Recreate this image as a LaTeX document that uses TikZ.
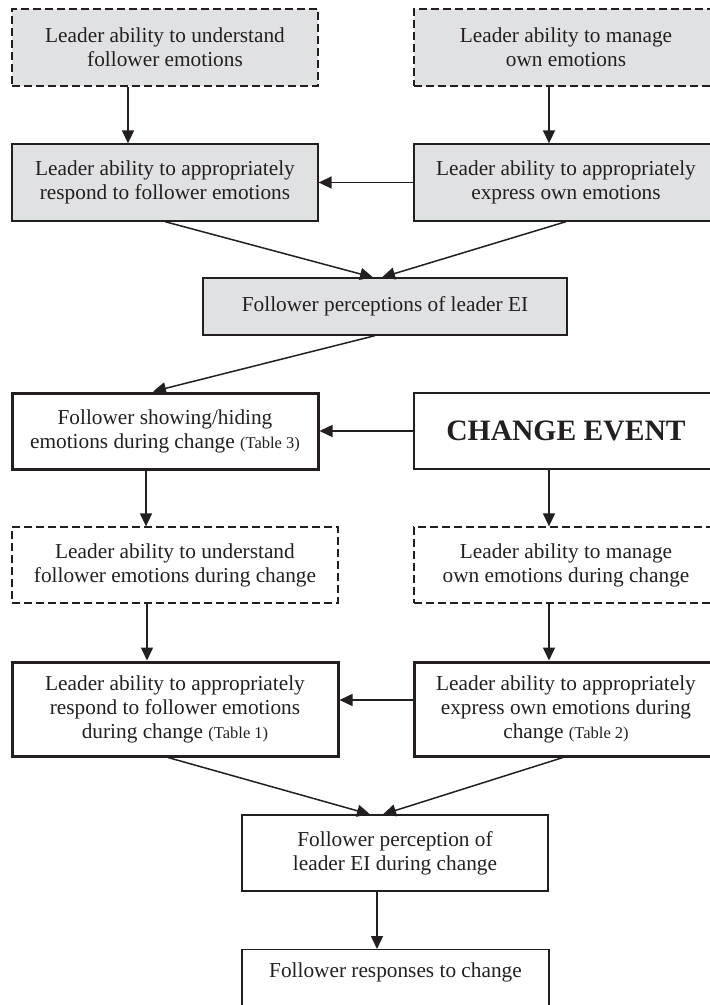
\documentclass[tikz,border=0pt]{standalone}
\usepackage{fontspec}
\setmainfont{Liberation Serif}
\usetikzlibrary{arrows.meta}
\definecolor{boxgray}{RGB}{224,225,227}
\definecolor{ink}{RGB}{35,31,32}
\tikzset{
  base/.style={draw=ink, text=ink, align=center, inner sep=0pt,
    font=\fontsize{21.3}{24}\selectfont, line width=1.3pt},
  grayfill/.style={fill=boxgray},
  dashbox/.style={dash pattern=on 8pt off 4pt},
  thickbox/.style={line width=3pt},
  arr/.style={draw=ink, line width=1.5pt, -{Triangle[length=13pt,width=12pt]}}
}
\newcommand{\tbl}[1]{{\fontsize{16.5}{24}\selectfont #1}}
\begin{document}
\begin{tikzpicture}[x=1pt,y=-1pt]
\useasboundingbox (0,0) rectangle (710,1005);
\clip (0,0) rectangle (710,1005);
% row 1
\node[base,grayfill,dashbox,minimum width=306pt,minimum height=77pt] (A) at (165,47.5)
  {Leader ability to understand\\follower emotions};
\node[base,grayfill,dashbox,minimum width=304pt,minimum height=77pt] (B) at (566,47.5)
  {Leader ability to manage\\own emotions};
% row 2
\node[base,grayfill,minimum width=306pt,minimum height=77pt] (C) at (165,182.5)
  {Leader ability to appropriately\\respond to follower emotions};
\node[base,grayfill,minimum width=304pt,minimum height=77pt] (D) at (566,182.5)
  {Leader ability to appropriately\\express own emotions};
% perceptions
\node[base,grayfill,minimum width=364pt,minimum height=57pt] (E) at (385,306.5)
  {\raisebox{4pt}{Follower perceptions of leader EI}};
% row 3
\node[base,thickbox,minimum width=306pt,minimum height=76pt] (F) at (165,431)
  {Follower showing/hiding\\emotions during change \tbl{(Table 3)}};
\node[base,minimum width=304pt,minimum height=76pt,font=\fontsize{29.6}{32}\selectfont\bfseries] (G) at (566,431)
  {\raisebox{-3pt}{CHANGE EVENT}};
% row 4
\node[base,dashbox,minimum width=326pt,minimum height=76pt] (H) at (175,565)
  {Leader ability to understand\\follower emotions during change};
\node[base,dashbox,minimum width=304pt,minimum height=76pt] (I) at (566,565)
  {Leader ability to manage\\own emotions during change};
% row 5
\node[base,thickbox,minimum width=326pt,minimum height=94pt] (J) at (175,709)
  {Leader ability to appropriately\\respond to follower emotions\\during change \tbl{(Table 1)}};
\node[base,thickbox,minimum width=304pt,minimum height=94pt] (K) at (566,709)
  {Leader ability to appropriately\\express own emotions during\\change \tbl{(Table 2)}};
% row 6
\node[base,minimum width=306pt,minimum height=76pt] (L) at (395,853)
  {Follower perception of\\leader EI during change};
% last
\node[base,minimum width=307pt,minimum height=90pt,anchor=north] (M) at (395.5,949) {};
\node[text=ink,font=\fontsize{21.3}{24}\selectfont,anchor=base] (Mt) at (395.5,977) {Follower responses to change};
% column coordinates
\coordinate (xa) at (128,0);
\coordinate (xb) at (549,0);
\coordinate (xf) at (146,0);
\coordinate (xh) at (147,0);
\coordinate (xl) at (377,0);
\coordinate (yk) at (0,700);
% arrows
\draw[arr] (A.south -| xa) -- (C.north -| xa);
\draw[arr] (B.south -| xb) -- (D.north -| xb);
\draw[arr] (D.west) -- (C.east);
\draw[arr] (C.south) -- ([xshift=-12pt]E.north);
\draw[arr] (D.south) -- ([xshift=-3pt]E.north);
\draw[arr] ([xshift=-10pt]E.south) -- ([xshift=-12pt]F.north);
\draw[arr] (G.west) -- (F.east);
\draw[arr] (F.south -| xf) -- (H.north -| xf);
\draw[arr] (G.south -| xb) -- (I.north -| xb);
\draw[arr] (H.south -| xh) -- (J.north -| xh);
\draw[arr] (I.south -| xb) -- (K.north -| xb);
\draw[arr] (K.west |- yk) -- (J.east |- yk);
\draw[arr] ([xshift=-7pt]J.south) -- ([xshift=-25pt]L.north);
\draw[arr] ([xshift=-3pt]K.south) -- ([xshift=-12pt]L.north);
\draw[arr] (L.south -| xl) -- (M.north -| xl);
\end{tikzpicture}
\end{document}
